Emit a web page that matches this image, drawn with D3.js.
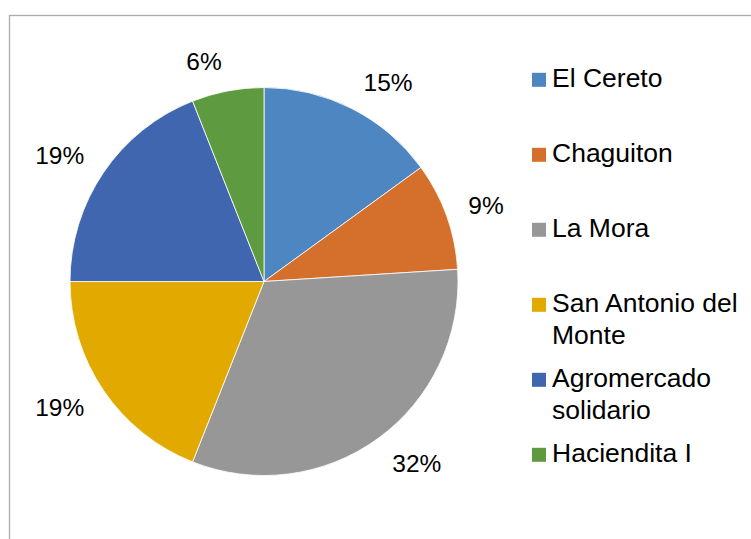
<!DOCTYPE html>
<html>
<head>
<meta charset="utf-8">
<script src="https://cdn.jsdelivr.net/npm/d3@7"></script>
<style>
  html, body { margin: 0; padding: 0; background: #fff; }
  svg { display: block; }
  text { font-family: "Liberation Sans", Arial, sans-serif; fill: #000; }
</style>
</head>
<body>
<svg id="chart" width="751" height="539"></svg>
<script>
const categories = ["El Cereto", "Chaguiton", "La Mora", "San Antonio del Monte", "Agromercado solidario", "Haciendita I"];
const values = [15, 9, 32, 19, 19, 6];
const percentLabels = ["15%", "9%", "32%", "19%", "19%", "6%"];
const colors = ["#4E86C2", "#D4702C", "#979797", "#E2AA00", "#3F66AF", "#5E9A3F"];

const W = 751, H = 539;
const svg = d3.select("#chart");

// chart area frame (extends beyond the window on right and bottom)
svg.append("rect")
  .attr("x", 9.5).attr("y", 15.5)
  .attr("width", 900).attr("height", 700)
  .attr("fill", "#fff")
  .attr("stroke", "#ABABAB").attr("stroke-width", 1.3);

const cx = 264, cy = 281.5, r = 194;
const g = svg.append("g").attr("transform", `translate(${cx},${cy})`);

const pie = d3.pie().sort(null).value(d => d.v).startAngle(0).endAngle(2 * Math.PI);
const data = categories.map((c, i) => ({ c, v: values[i], label: percentLabels[i], color: colors[i] }));
const arcs = pie(data);
const arc = d3.arc().innerRadius(0).outerRadius(r);

g.selectAll("path.slice").data(arcs).enter().append("path")
  .attr("class", "slice")
  .attr("d", arc)
  .attr("fill", d => d.data.color)
  .attr("stroke", "#fff").attr("stroke-width", 0.8);

// outside-end data labels
const labelR = 215;
g.selectAll("text.pct").data(arcs).enter().append("text")
  .attr("class", "pct")
  .each(function(d) {
    const a = (d.startAngle + d.endAngle) / 2;
    const ux = Math.sin(a), uy = -Math.cos(a);
    const px = labelR * ux, py = labelR * uy;
    const side = ux >= 0 ? 1 : -1;
    d3.select(this)
      .attr("x", px + side * 2)
      .attr("y", py + uy * 9)
      .attr("dy", "0.36em")
      .attr("text-anchor", side > 0 ? "start" : "end");
  })
  .style("font-size", "24.5px")
  .text(d => d.data.label);

// legend
const legX = 532, textX = 552, firstBase = 87.3, step = 75, lineH = 31.5, sq = 14, maxW = 196;
const leg = svg.append("g");
data.forEach((d, i) => {
  const base = firstBase + i * step;
  leg.append("rect")
    .attr("x", legX).attr("y", base - sq - 0.5)
    .attr("width", sq).attr("height", sq)
    .attr("fill", d.color);
  const t = leg.append("text")
    .attr("x", textX).attr("y", base)
    .style("font-size", "26.5px");
  // word wrap
  const words = d.c.split(" ");
  let line = [];
  let tspan = t.append("tspan").attr("x", textX).attr("y", base);
  let lineNo = 0;
  words.forEach(w => {
    line.push(w);
    tspan.text(line.join(" "));
    if (tspan.node().getComputedTextLength() > maxW && line.length > 1) {
      line.pop();
      tspan.text(line.join(" "));
      line = [w];
      lineNo++;
      tspan = t.append("tspan").attr("x", textX).attr("y", base + lineNo * lineH).text(w);
    }
  });
});
</script>
</body>
</html>
